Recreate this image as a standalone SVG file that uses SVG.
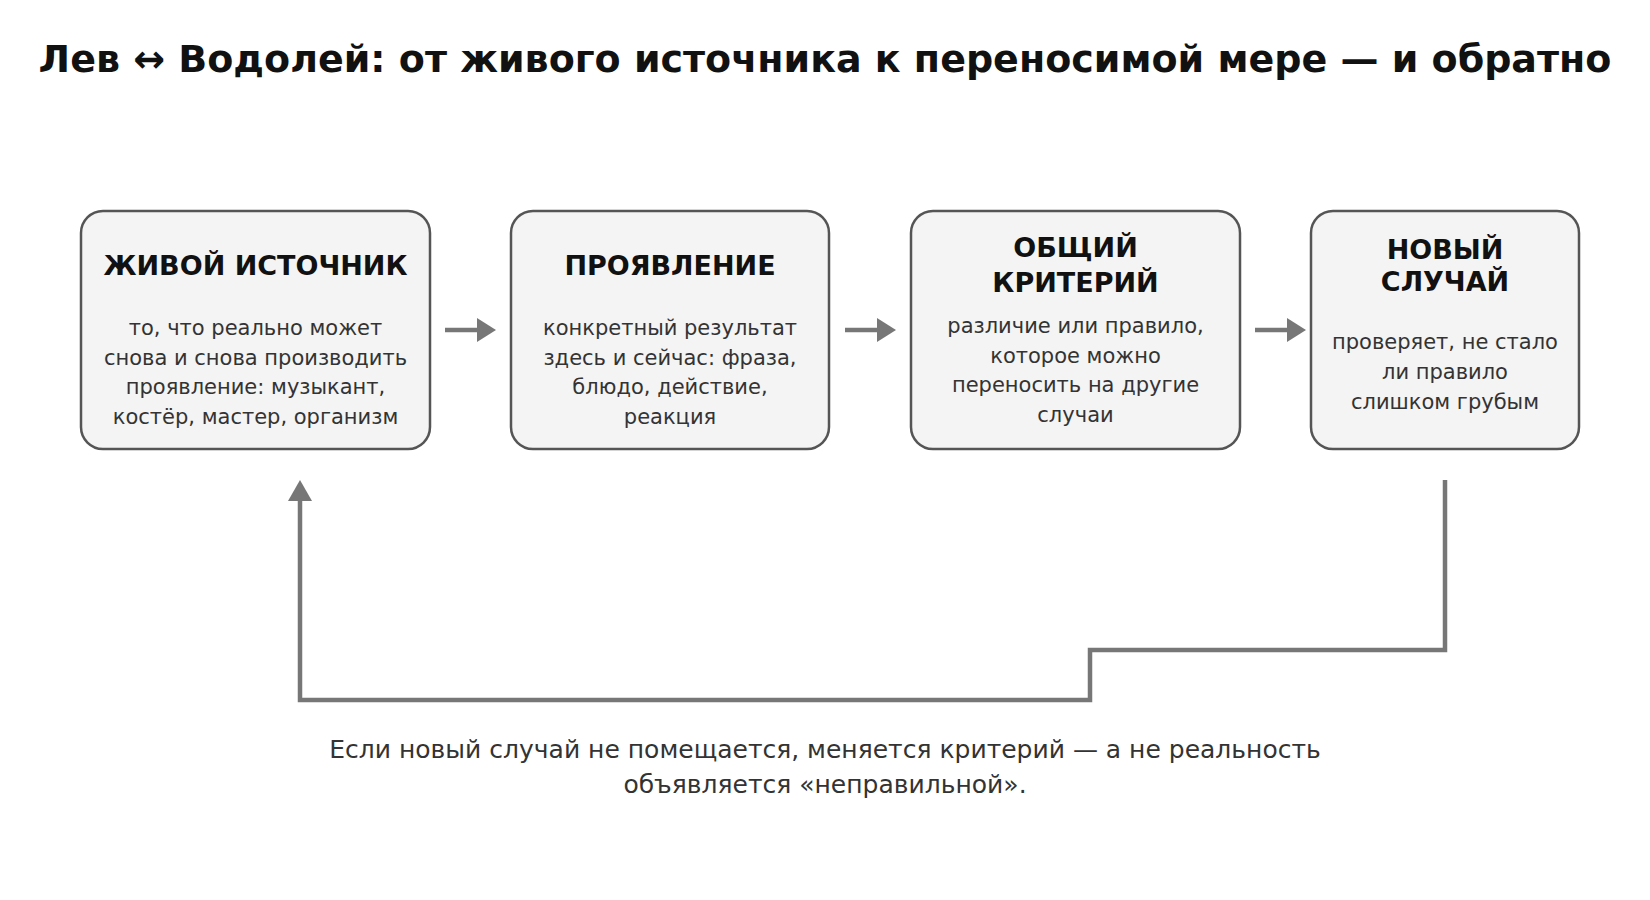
<svg xmlns="http://www.w3.org/2000/svg" width="1650" height="900" viewBox="0 0 1650 900">
<style>
.bg{fill:#ffffff}
.box{fill:#f4f4f4;stroke:#555555;stroke-width:2.5}
.ttl{font-family:"DejaVu Sans",sans-serif;font-weight:bold;font-size:38px;fill:#111111;text-anchor:middle}
.nt{font-family:"DejaVu Sans",sans-serif;font-weight:bold;font-size:27px;fill:#111111;text-anchor:middle}
.nb{font-family:"DejaVu Sans",sans-serif;font-size:21px;fill:#333333;text-anchor:middle}
.cap{font-family:"DejaVu Sans",sans-serif;font-size:25px;fill:#333333;text-anchor:middle}
.con{fill:none;stroke:#777777;stroke-width:4.5}
.head{fill:#777777}
</style>
<rect class="bg" x="0" y="0" width="1650" height="900"/>
<text class="ttl" x="825" y="72">Лев ↔ Водолей: от живого источника к переносимой мере — и обратно</text>

<g id="node-source">
<rect class="box" x="81" y="211" width="349" height="238" rx="22"/>
<text class="nt" x="255.5" y="275">ЖИВОЙ ИСТОЧНИК</text>
<text class="nb" x="255.5" y="335">то, что реально может</text>
<text class="nb" x="255.5" y="364.5">снова и снова производить</text>
<text class="nb" x="255.5" y="394">проявление: музыкант,</text>
<text class="nb" x="255.5" y="423.5">костёр, мастер, организм</text>
</g>

<g id="node-manifest">
<rect class="box" x="511" y="211" width="318" height="238" rx="22"/>
<text class="nt" x="670" y="275">ПРОЯВЛЕНИЕ</text>
<text class="nb" x="670" y="335">конкретный результат</text>
<text class="nb" x="670" y="364.5">здесь и сейчас: фраза,</text>
<text class="nb" x="670" y="394">блюдо, действие,</text>
<text class="nb" x="670" y="423.5">реакция</text>
</g>

<g id="node-criterion">
<rect class="box" x="911" y="211" width="329" height="238" rx="22"/>
<text class="nt" x="1075.5" y="257">ОБЩИЙ</text>
<text class="nt" x="1075.5" y="292">КРИТЕРИЙ</text>
<text class="nb" x="1075.5" y="333">различие или правило,</text>
<text class="nb" x="1075.5" y="362.5">которое можно</text>
<text class="nb" x="1075.5" y="392">переносить на другие</text>
<text class="nb" x="1075.5" y="421.5">случаи</text>
</g>

<g id="node-newcase">
<rect class="box" x="1311" y="211" width="268" height="238" rx="22"/>
<text class="nt" x="1445" y="259">НОВЫЙ</text>
<text class="nt" x="1445" y="291">СЛУЧАЙ</text>
<text class="nb" x="1445" y="348.5">проверяет, не стало</text>
<text class="nb" x="1445" y="378.5">ли правило</text>
<text class="nb" x="1445" y="408.5">слишком грубым</text>
</g>

<g id="connectors">
<line class="con" x1="445" y1="330" x2="480" y2="330"/>
<polygon class="head" points="477,318 496,330 477,342"/>
<line class="con" x1="845" y1="330" x2="880" y2="330"/>
<polygon class="head" points="877,318 896,330 877,342"/>
<line class="con" x1="1255" y1="330" x2="1290" y2="330"/>
<polygon class="head" points="1287,318 1306,330 1287,342"/>
<polyline class="con" points="1445,480 1445,650 1090,650 1090,700 300,700 300,497"/>
<polygon class="head" points="288,501 300,480 312,501"/>
</g>

<text class="cap" x="825" y="758">Если новый случай не помещается, меняется критерий — а не реальность</text>
<text class="cap" x="825" y="793">объявляется «неправильной».</text>
</svg>
